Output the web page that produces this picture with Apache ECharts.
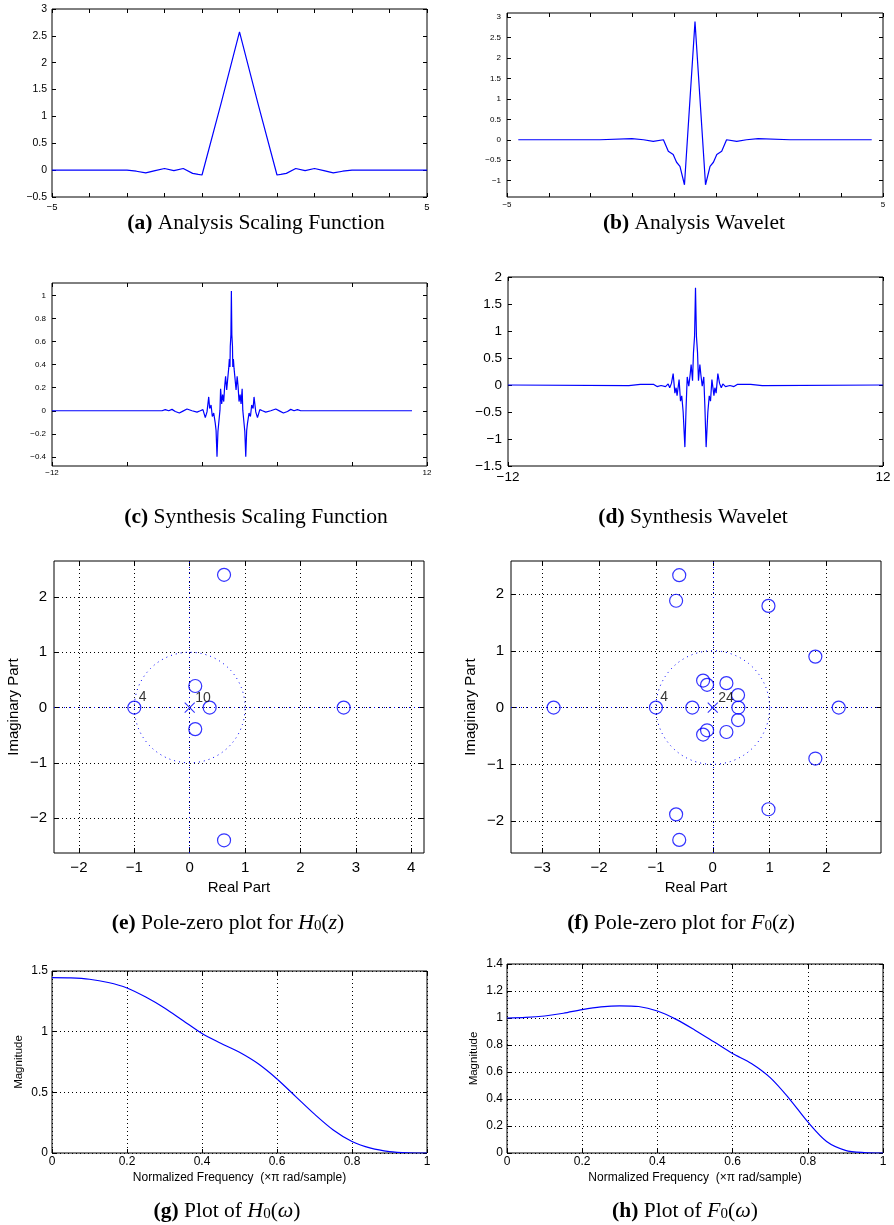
<!DOCTYPE html>
<html><head><meta charset="utf-8">
<script src="https://cdn.jsdelivr.net/npm/echarts@6/dist/echarts.min.js"></script>
<style>html,body{margin:0;padding:0;background:#fff}#c{width:894px;height:1225px}</style>
</head><body><div id="c"></div>
<script>
// ---------- (a) Analysis Scaling Function ----------
const aX = [-5,-4,-3,-2.75,-2.5,-2.25,-2,-1.75,-1.5,-1.25,-1.1,-1,-0.5,0,0.5,1,1.1,1.25,1.5,1.75,2,2.25,2.5,2.75,3,4,5];
const aY = [0,0,0,-0.02,-0.05,-0.01,0.03,-0.01,0.03,-0.06,-0.08,-0.09,1.22,2.575,1.22,-0.09,-0.08,-0.06,0.03,-0.01,0.03,-0.01,-0.05,-0.02,0,0,0];
const aXTicks = [-5,-4,-3,-2,-1,0,1,2,3,4,5];
const aXLabels = [-5,5];
const aYTicks = [-0.5,0,0.5,1,1.5,2,2.5,3];

// ---------- (b) Analysis Wavelet ----------
const bX = [-4.7,-2.53,-1.68,-1.37,-1.11,-0.84,-0.71,-0.58,-0.49,-0.4,-0.28,0,0.28,0.4,0.49,0.58,0.71,0.84,1.11,1.37,1.68,2.53,4.7];
const bY = [0,0,0.03,0,-0.04,0,-0.28,-0.36,-0.55,-0.65,-1.1,2.89,-1.1,-0.65,-0.55,-0.36,-0.28,0,-0.04,0,0.03,0,0];
const bXTicks = [-5,-3.889,-2.778,-1.667,-0.556,0.556,1.667,2.778,3.889,5];
const bXLabels = [-5,5];
const bYTicks = [-1,-0.5,0,0.5,1,1.5,2,2.5,3];

// ---------- (c) Synthesis Scaling Function ----------
const cX = [-12,-4.96,-4.75,-4.53,-4.32,-4.11,-3.85,-3.62,-3.36,-3.04,-2.72,-2.51,-2.34,-2.19,-2.08,-1.97,-1.91,-1.82,-1.74,-1.65,-1.55,-1.5,-1.44,-1.38,-1.31,-1.25,-1.21,-1.14,-1.08,-1.01,-0.95,-0.89,-0.82,-0.76,-0.69,-0.65,-0.61,-0.59,-0.55,-0.52,
  -0.49,-0.45,-0.43,-0.39,-0.35,-0.28,-0.22,-0.15,-0.09,-0.03,0.04,0.1,0.17,0.21,0.27,0.34,0.4,0.46,0.51,0.61,0.7,0.78,0.87,0.93,1.04,1.15,1.3,1.47,1.68,2.0,2.32,2.58,2.81,3.07,3.28,3.49,3.71,3.92,11.04];
const cY = [0,0,0.01,0,0.012,-0.006,-0.02,-0.003,0.015,0,-0.012,0,0.01,-0.06,-0.01,0.12,0.02,0.05,-0.05,-0.02,-0.11,-0.17,-0.4,-0.18,-0.08,0.005,0.19,0.06,0.14,0.08,0.21,0.3,0.18,0.27,0.37,0.45,0.38,0.56,0.66,1.04,
  0.66,0.56,0.38,0.45,0.37,0.27,0.18,0.3,0.21,0.08,0.14,0.06,0.19,0.005,-0.08,-0.18,-0.4,-0.17,-0.11,-0.02,-0.05,0.05,0.02,0.12,-0.01,-0.06,0.01,0,-0.012,0,0.015,-0.003,-0.02,-0.006,0.012,0,0.01,0,0];
const cXTicks = [-12,-7.2,-2.4,2.4,7.2,12];
const cXLabels = [-12,12];
const cYTicks = [-0.4,-0.2,0,0.2,0.4,0.6,0.8,1];

// ---------- (d) Synthesis Wavelet ----------
const dX = [-12,-4.27,-3.53,-2.67,-2.46,-2.2,-1.92,-1.75,-1.65,-1.54,-1.43,-1.32,-1.24,-1.18,-1.05,-0.96,-0.88,-0.79,-0.68,-0.6,-0.53,-0.43,-0.34,-0.28,-0.19,-0.13,-0.06,0,
  0.06,0.13,0.19,0.28,0.34,0.43,0.53,0.6,0.68,0.79,0.88,0.96,1.05,1.18,1.24,1.32,1.43,1.54,1.65,1.75,1.92,2.2,2.46,2.67,3.53,4.27,12];
const dY = [0,-0.01,0.01,0.01,-0.03,-0.01,-0.03,0.02,-0.05,0.03,0.21,-0.15,-0.05,-0.2,0.1,-0.3,-0.2,-0.5,-1.15,-0.4,0.15,-0.02,0.2,0.38,0.08,0.6,0.9,1.8,
  0.9,0.6,0.08,0.38,0.2,-0.02,0.15,-0.4,-1.15,-0.5,-0.2,-0.3,0.1,-0.2,-0.05,-0.15,0.21,0.03,-0.05,0.02,-0.03,-0.01,-0.03,0.01,0.01,-0.01,0];
const dXTicks = [-12,12];
const dYTicks = [-1.5,-1,-0.5,0,0.5,1,1.5,2];

// ---------- (e) Pole-zero plot for H0(z) ----------
const eZeroRe = [-1,0.1,0.1,0.36,2.78,0.62,0.62];
const eZeroIm = [0,0.39,-0.39,0,0,2.4,-2.4];
const eZeroMult = [4,1,1,1,1,1,1];
const ePoleRe = [0], ePoleIm = [0], ePoleMult = [10];
const eXTicks = [-2,-1,0,1,2,3,4];
const eYTicks = [-2,-1,0,1,2];

// ---------- (f) Pole-zero plot for F0(z) ----------
const fZeroRe = [-2.8,-1,-0.36,-0.59,-0.645,-0.645,-0.59,0.98,0.98,1.805,1.805,2.216,-0.17,-0.1,-0.1,-0.17,0.24,0.24,0.445,0.45,0.445];
const fZeroIm = [0,0,0,2.33,1.88,-1.88,-2.33,1.79,-1.79,0.897,-0.897,0,0.475,0.4,-0.4,-0.475,0.43,-0.43,0.22,0,-0.22];
const fZeroMult = [1,4,1,1,1,1,1,1,1,1,1,1,1,1,1,1,1,1,1,1,1];
const fPoleRe = [0], fPoleIm = [0], fPoleMult = [24];
const fXTicks = [-3,-2,-1,0,1,2];
const fYTicks = [-2,-1,0,1,2];

// ---------- (g) H0(w) magnitude ----------
const gW = [0,0.05,0.1,0.15,0.2,0.25,0.3,0.35,0.4,0.45,0.5,0.55,0.6,0.65,0.7,0.75,0.8,0.85,0.9,0.95,1];
const gMag = [1.445,1.443,1.432,1.405,1.36,1.285,1.195,1.09,0.985,0.905,0.83,0.735,0.61,0.465,0.32,0.19,0.095,0.04,0.012,0.002,0];
const gXTicks = [0,0.2,0.4,0.6,0.8,1];
const gYTicks = [0,0.5,1,1.5];

// ---------- (h) F0(w) magnitude ----------
const hW = [0,0.05,0.1,0.15,0.2,0.25,0.3,0.35,0.4,0.45,0.5,0.55,0.6,0.65,0.7,0.75,0.8,0.85,0.9,0.95,1];
const hMag = [1.0,1.004,1.015,1.035,1.062,1.082,1.09,1.085,1.052,0.99,0.91,0.824,0.737,0.663,0.558,0.405,0.23,0.085,0.02,0.003,0];
const hXTicks = [0,0.2,0.4,0.6,0.8,1];
const hYTicks = [0,0.2,0.4,0.6,0.8,1,1.2,1.4];

const captions = [
  {x:256, y:223, text:'{b|(a)} Analysis Scaling Function'},
  {x:694, y:223, text:'{b|(b)} Analysis Wavelet'},
  {x:256, y:517, text:'{b|(c)} Synthesis Scaling Function'},
  {x:693, y:517, text:'{b|(d)} Synthesis Wavelet'},
  {x:228, y:923, text:'{b|(e)} Pole-zero plot for {i|H}{s|0}({i|z})'},
  {x:681, y:923, text:'{b|(f)} Pole-zero plot for {i|F}{s|0}({i|z})'},
  {x:227, y:1211, text:'{b|(g)} Plot of {i|H}{s|0}({i|\u03c9})'},
  {x:685, y:1211, text:'{b|(h)} Plot of {i|F}{s|0}({i|\u03c9})'}
];

// ---------- build ----------
const SANS = 'Liberation Sans', SERIF = 'Liberation Serif';
const BLUE = '#0000ff';
const fmt = v => String(v).replace('-', '\u2212');
const pairs = (xs, ys) => xs.map((x, i) => [x, ys[i]]);

const grids = [], xAxes = [], yAxes = [], series = [];

function axis(dir, gi, p, a, main) {
  const o = {
    type: 'value', gridIndex: gi, min: a.min, max: a.max,
    position: dir === 'x' ? (main ? 'bottom' : 'top') : (main ? 'left' : 'right'),
    axisLine: {show: false, onZero: false},
    axisTick: {show: true, inside: true, length: p.tl, lineStyle: {color: '#000', width: 1}, customValues: a.ticks},
    axisLabel: main ? {show: true, customValues: a.labels || a.ticks, formatter: fmt, fontSize: a.fs, fontFamily: SANS, color: '#000', margin: a.margin, hideOverlap: false} : {show: false},
    splitLine: {show: !!(main && p.grid), lineStyle: {color: '#000', type: [1, 3], width: 1}},
    silent: true
  };
  if (main && a.name) {
    o.name = a.name; o.nameLocation = 'middle'; o.nameGap = a.nameGap;
    o.nameTextStyle = {fontSize: a.nfs, fontFamily: SANS, color: '#000'};
  }
  return o;
}

function addPanel(p) {
  const gi = grids.length;
  grids.push({left: p.left, top: p.top, width: p.width, height: p.height, show: true, borderColor: '#000', borderWidth: 1, backgroundColor: '#fff', containLabel: false, outerBoundsMode: 'none'});
  xAxes.push(axis('x', gi, p, p.x, true));
  xAxes.push(axis('x', gi, p, p.x, false));
  yAxes.push(axis('y', gi, p, p.y, true));
  yAxes.push(axis('y', gi, p, p.y, false));
  return 2 * gi;
}

function lineSeries(ai, xs, ys, smooth) {
  series.push({type: 'line', xAxisIndex: ai, yAxisIndex: ai, data: pairs(xs, ys), symbol: 'none', smooth: smooth || false,
    lineStyle: {color: BLUE, width: 1.2}, silent: true, animation: false});
}

function pzSeries(ai, zr, zi, zm, pr, pi, pm) {
  // unit circle (reference geometry)
  const uc = [];
  for (let d = 0; d <= 360; d += 3) uc.push([Math.cos(d * Math.PI / 180), Math.sin(d * Math.PI / 180)]);
  series.push({type: 'line', xAxisIndex: ai, yAxisIndex: ai, data: uc, symbol: 'none', silent: true, animation: false,
    lineStyle: {color: BLUE, width: 1, type: [1, 4]},
    markLine: {silent: true, symbol: 'none', animation: false, label: {show: false},
      lineStyle: {color: BLUE, width: 1, type: [1, 4]}, data: [{xAxis: 0}, {yAxis: 0}]}});
  const lbl = (m, pos) => m > 1 ? {show: true, formatter: String(m), position: pos, align: 'left', verticalAlign: 'middle', fontSize: 14, fontFamily: SANS, color: '#000'} : {show: false};
  series.push({type: 'scatter', xAxisIndex: ai, yAxisIndex: ai, symbol: 'circle', symbolSize: 13, silent: true, animation: false,
    itemStyle: {color: 'transparent', borderColor: BLUE, borderWidth: 1.2},
    data: zr.map((x, i) => ({value: [x, zi[i]], label: lbl(zm[i], [11.5, -3.5])}))});
  series.push({type: 'scatter', xAxisIndex: ai, yAxisIndex: ai, symbol: 'path://M0 0L10 10M10 0L0 10', symbolSize: 10, silent: true, animation: false,
    itemStyle: {color: 'transparent', borderColor: BLUE, borderWidth: 1.1},
    data: pr.map((x, i) => ({value: [x, pi[i]], label: lbl(pm[i], [11, -4])}))});
}

let ai;
ai = addPanel({left: 52, top: 9, width: 375, height: 188, tl: 4,
  x: {min: -5, max: 5, ticks: aXTicks, labels: aXLabels, fs: 9.5, margin: 5},
  y: {min: -0.5, max: 3, ticks: aYTicks, fs: 10.5, margin: 5}});
lineSeries(ai, aX, aY);

ai = addPanel({left: 507, top: 13, width: 376, height: 184, tl: 4,
  x: {min: -5, max: 5, ticks: bXTicks, labels: bXLabels, fs: 8, margin: 4},
  y: {min: -1.4, max: 3.1, ticks: bYTicks, fs: 8, margin: 6}});
lineSeries(ai, bX, bY);

ai = addPanel({left: 52, top: 283, width: 375, height: 183, tl: 4,
  x: {min: -12, max: 12, ticks: cXTicks, labels: cXLabels, fs: 8, margin: 3},
  y: {min: -0.48, max: 1.11, ticks: cYTicks, fs: 8, margin: 6}});
lineSeries(ai, cX, cY);

ai = addPanel({left: 508, top: 277, width: 375, height: 189, tl: 4,
  x: {min: -12, max: 12, ticks: dXTicks, fs: 13.5, margin: 4},
  y: {min: -1.5, max: 2, ticks: dYTicks, fs: 13.5, margin: 6}});
lineSeries(ai, dX, dY);

ai = addPanel({left: 54, top: 561, width: 370, height: 292, tl: 5, grid: true,
  x: {min: -2.45, max: 4.23, ticks: eXTicks, fs: 15, margin: 7, name: 'Real Part', nameGap: 27, nfs: 15},
  y: {min: -2.63, max: 2.65, ticks: eYTicks, fs: 15, margin: 7, name: 'Imaginary Part', nameGap: 33, nfs: 15}});
pzSeries(ai, eZeroRe, eZeroIm, eZeroMult, ePoleRe, ePoleIm, ePoleMult);

ai = addPanel({left: 511, top: 561, width: 370, height: 292, tl: 5, grid: true,
  x: {min: -3.55, max: 2.96, ticks: fXTicks, fs: 15, margin: 7, name: 'Real Part', nameGap: 27, nfs: 15},
  y: {min: -2.56, max: 2.58, ticks: fYTicks, fs: 15, margin: 7, name: 'Imaginary Part', nameGap: 33, nfs: 15}});
pzSeries(ai, fZeroRe, fZeroIm, fZeroMult, fPoleRe, fPoleIm, fPoleMult);

ai = addPanel({left: 52, top: 971, width: 375, height: 182, tl: 4, grid: true,
  x: {min: 0, max: 1, ticks: gXTicks, fs: 12, margin: 3, name: 'Normalized Frequency  (\u00d7\u03c0 rad/sample)', nameGap: 19, nfs: 12},
  y: {min: 0, max: 1.5, ticks: gYTicks, fs: 12, margin: 4, name: 'Magnitude', nameGap: 27, nfs: 11.5}});
lineSeries(ai, gW, gMag, 0.3);

ai = addPanel({left: 507, top: 964, width: 376, height: 189, tl: 4, grid: true,
  x: {min: 0, max: 1, ticks: hXTicks, fs: 12, margin: 3, name: 'Normalized Frequency  (\u00d7\u03c0 rad/sample)', nameGap: 19, nfs: 12},
  y: {min: 0, max: 1.4, ticks: hYTicks, fs: 12, margin: 4, name: 'Magnitude', nameGap: 27, nfs: 11.5}});
lineSeries(ai, hW, hMag, 0.3);

const rich = {
  b: {fontWeight: 'bold', fontSize: 21.5, fontFamily: SERIF, fill: '#000'},
  i: {fontStyle: 'italic', fontSize: 22, fontFamily: SERIF, fill: '#000'},
  s: {fontSize: 15, fontFamily: SERIF, fill: '#000', verticalAlign: 'bottom'}
};
const graphics = captions.map(c => ({type: 'text', x: c.x, y: c.y, silent: true,
  style: {text: c.text, rich: rich, fontSize: 21.5, fontFamily: SERIF, fill: '#000', align: 'center', verticalAlign: 'middle'}}));

const chart = echarts.init(document.getElementById('c'), null, {renderer: 'canvas', width: 894, height: 1225});
chart.setOption({
  animation: false,
  backgroundColor: '#fff',
  grid: grids, xAxis: xAxes, yAxis: yAxes, series: series,
  graphic: graphics
});
</script></body></html>
